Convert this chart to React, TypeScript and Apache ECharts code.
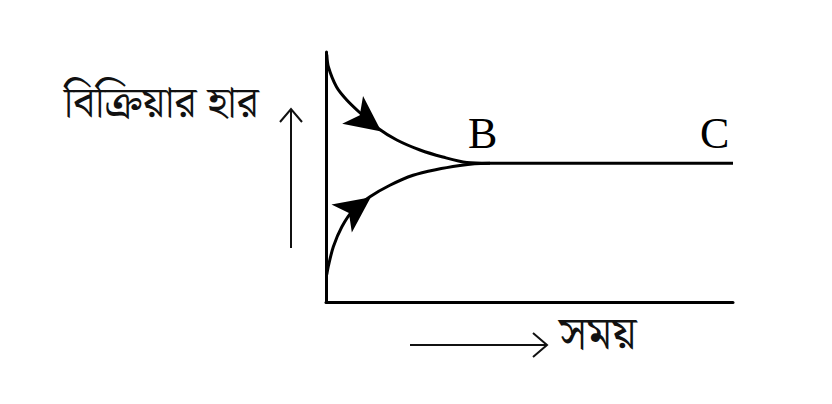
import React, { useEffect, useRef } from "react";
import * as echarts from "echarts";

// Reaction rate curves (x: time, y: rate), both on a 0–100 scale
const forwardRate: [number, number][] = [
  [0.2, 99], [0.6, 94], [2.6, 86], [5.1, 80.8], [8.4, 75.6], [12.5, 69.8],
  [17.4, 64.8], [23.1, 60.8], [28.7, 58], [34.6, 55.8], [40.3, 55.5], [100, 55.5],
];
const backwardRate: [number, number][] = [
  [0.2, 11], [0.6, 14.5], [1.8, 22.1], [3.9, 30.1], [6.7, 36.8], [10.8, 42.1],
  [15.7, 46.7], [21.4, 50.7], [27.2, 53], [32.9, 54.6], [36.5, 55.3], [40.3, 55.5],
];
// arrowheads on the curves: [x, y, rotation]
const arrowMarks: [number, number, number][] = [
  [13.6, 68.2, -127],
  [11, 41.9, -54],
];
const pointLabels: { name: string; x: number; y: number }[] = [
  { name: "B", x: 38.5, y: 67.5 },
  { name: "C", x: 95.5, y: 67.5 },
];
const yTitle = "বিক্রিয়ার হার";
const xTitle = "সময়";

const BN_FONT = "'Noto Serif Bengali', 'Noto Sans Bengali', 'Lohit Bengali', 'FreeSerif', 'Noto Sans', sans-serif";

export default function App() {
  const ref = useRef<HTMLDivElement>(null);
  useEffect(() => {
    if (!ref.current) return;
    const chart = echarts.init(ref.current, undefined, { renderer: "svg" });
    const lineStyle = { color: "#000", width: 3 };
    chart.setOption({
      animation: false,
      backgroundColor: "#fff",
      grid: { left: 326, right: 99, top: 52, bottom: 102 },
      xAxis: {
        type: "value", min: 0, max: 100,
        axisLine: { show: true, lineStyle: { color: "#000", width: 3 } },
        axisTick: { show: false }, axisLabel: { show: false }, splitLine: { show: false },
      },
      yAxis: {
        type: "value", min: 0, max: 100,
        axisLine: { show: true, lineStyle: { color: "#000", width: 3 } },
        axisTick: { show: false }, axisLabel: { show: false }, splitLine: { show: false },
      },
      series: [
        {
          type: "line", data: forwardRate, smooth: 0.3, symbol: "none",
          lineStyle, silent: true,
        },
        {
          type: "line", data: backwardRate, smooth: 0.3, symbol: "none",
          lineStyle, silent: true,
        },
        {
          type: "scatter",
          data: arrowMarks.map((a) => ({
            value: [a[0], a[1]],
            symbolRotate: a[2],
          })),
          symbol: "arrow",
          symbolSize: [26, 36],
          itemStyle: { color: "#000", opacity: 1 },
          silent: true,
        },
        {
          type: "scatter",
          data: pointLabels.map((p) => ({ value: [p.x, p.y], name: p.name })),
          symbolSize: 0,
          itemStyle: { opacity: 1 },
          label: {
            show: true, position: "inside", formatter: "{b}",
            fontFamily: "'Liberation Serif', 'Times New Roman', serif",
            fontSize: 44, color: "#000", opacity: 1,
          },
          silent: true,
        },
      ],
      graphic: [
        {
          type: "text", left: 64, top: 83,
          style: { text: yTitle, font: `43px ${BN_FONT}`, fill: "#111" },
        },
        { type: "line", shape: { x1: 291, y1: 248, x2: 291, y2: 109 }, style: { stroke: "#111", lineWidth: 2 } },
        { type: "polyline", shape: { points: [[280, 122], [291, 109], [302, 122]] }, style: { stroke: "#111", lineWidth: 2, fill: null } },
        { type: "line", shape: { x1: 410, y1: 345, x2: 546, y2: 345 }, style: { stroke: "#111", lineWidth: 2 } },
        { type: "polyline", shape: { points: [[533, 333], [547, 345], [533, 357]] }, style: { stroke: "#111", lineWidth: 2, fill: null } },
        {
          type: "text", left: 559, top: 312,
          style: { text: xTitle, font: `46px ${BN_FONT}`, fill: "#111" },
        },
      ],
    });
    return () => chart.dispose();
  }, []);
  return (
    <div
      ref={ref}
      style={{ position: "absolute", left: 0, top: 0, width: 832, height: 404 }}
    />
  );
}
